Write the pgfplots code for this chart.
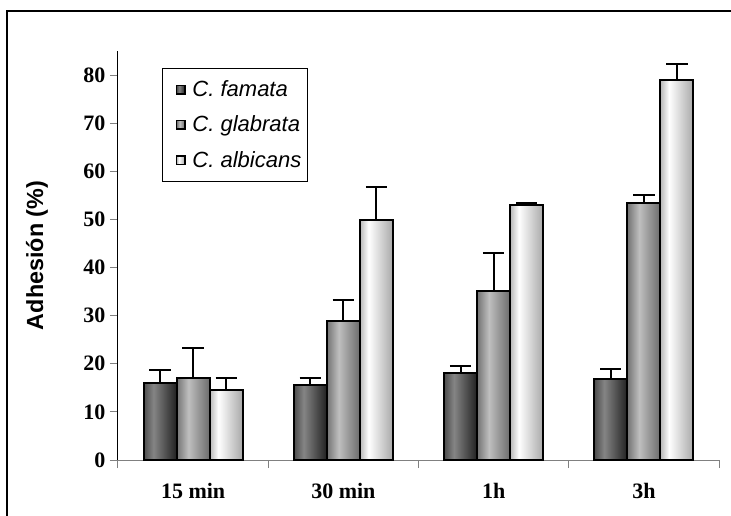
\documentclass[border=0pt]{standalone}
\usepackage{fontspec}
\setmainfont{Liberation Serif}
\newfontfamily\arial{Liberation Sans}
\usepackage{pgfplots}
\usepackage{pgfplotstable}
\pgfplotsset{compat=1.18}

% cylinder-like shadings for the three species
\definecolor{famL}{gray}{0.30}\definecolor{famM}{gray}{0.52}\definecolor{famR}{gray}{0.13}
\definecolor{glaL}{gray}{0.45}\definecolor{glaM}{gray}{0.75}\definecolor{glaR}{gray}{0.42}
\definecolor{albL}{gray}{0.72}\definecolor{albM}{gray}{1.00}\definecolor{albR}{gray}{0.66}
\pgfdeclarehorizontalshading{famshade}{100bp}{color(0bp)=(famL); color(25bp)=(famL); color(40bp)=(famM); color(75bp)=(famR); color(100bp)=(famR)}
\pgfdeclarehorizontalshading{glashade}{100bp}{color(0bp)=(glaL); color(25bp)=(glaL); color(43bp)=(glaM); color(75bp)=(glaR); color(100bp)=(glaR)}
\pgfdeclarehorizontalshading{albshade}{100bp}{color(0bp)=(albL); color(25bp)=(albL); color(38bp)=(albM); color(75bp)=(albR); color(100bp)=(albR)}

% adhesion (%) and standard deviation per time point
\pgfplotstableread{
x fam famerr gla glaerr alb alberr
0 16.0 2.7 17.1 6.1 14.5 2.6
1 15.6 1.5 28.8 4.4 49.8 7.0
2 18.0 1.5 35.1 8.0 53.1 0.3
3 16.8 2.2 53.5 1.6 79.0 3.4
}\adhesion

\begin{document}
\begin{tikzpicture}
\useasboundingbox (0,0) rectangle (548.25pt,386.25pt);
\draw[line width=1.1pt] (5.25pt,-5pt) -- (5.25pt,378pt) -- (560pt,378pt);
\begin{axis}[
  scale only axis, width=450.75pt, height=306.75pt,
  at={(88.5pt,41.25pt)}, anchor=south west,
  xmin=-0.5, xmax=3.5, ymin=0, ymax=85,
  axis x line*=bottom, axis y line*=left,
  x axis line style={gray, line width=0.75pt},
  y axis line style={black, line width=0.75pt},
  xtick={0,1,2,3}, xticklabels={15 min,30 min,1h,3h},
  minor xtick={-0.5,0.5,1.5,2.5,3.5},
  ytick={0,10,...,80},
  tick align=outside,
  major tick length=6pt, minor tick length=6pt,
  xtick style={draw=none},
  minor x tick style={draw=gray, line width=0.75pt},
  ytick style={draw=gray, line width=0.75pt},
  tick label style={font=\fontsize{16.5}{16.5}\selectfont\bfseries},
  /pgf/number format/assume math mode=true,
  xticklabel style={yshift=-8pt},
  ylabel={Adhesión (\%)},
  ylabel style={font=\arial\bfseries\fontsize{17.5}{17.5}\selectfont,
    at={(axis description cs:-0.135,0.5)}, anchor=center},
  bar width=0.22,
  legend style={at={(0.0732,0.958)}, anchor=north west, draw=black,
    line width=0.75pt, font=\arial\itshape\fontsize{16.5}{16.5}\selectfont,
    row sep=9pt, inner xsep=3pt, inner ysep=7pt, cells={anchor=west}},
  legend image code/.code={\path (0pt,0pt);
     \path[#1] (7pt,-3pt) rectangle (13pt,3pt);
     \draw[black, line width=0.75pt] (7pt,-3pt) rectangle (13pt,3pt);
     \path (16pt,0pt);},
  barstyle/.style={ybar, draw=black, line width=1.5pt},
  errstyle/.style={draw=none, mark=none, forget plot,
    error bars/y dir=plus, error bars/y explicit,
    error bars/error bar style={draw=black, line width=1.5pt},
    error bars/error mark options={rotate=90, mark size=8pt, line width=1.5pt, draw=black}},
]
% one plot per bar, so that every bar gets its own shading
\addplot[barstyle, bar shift=-0.22, shading=famshade] coordinates {(0,16.0)};
\addlegendentry{C. famata}
\addplot[barstyle, bar shift=0, shading=glashade] coordinates {(0,17.1)};
\addlegendentry{C. glabrata}
\addplot[barstyle, bar shift=0.22, shading=albshade] coordinates {(0,14.5)};
\addlegendentry{C. albicans}
\addplot[barstyle, bar shift=-0.22, shading=famshade, forget plot] coordinates {(1,15.6)};
\addplot[barstyle, bar shift=-0.22, shading=famshade, forget plot] coordinates {(2,18.0)};
\addplot[barstyle, bar shift=-0.22, shading=famshade, forget plot] coordinates {(3,16.8)};
\addplot[barstyle, bar shift=0, shading=glashade, forget plot] coordinates {(1,28.8)};
\addplot[barstyle, bar shift=0, shading=glashade, forget plot] coordinates {(2,35.1)};
\addplot[barstyle, bar shift=0, shading=glashade, forget plot] coordinates {(3,53.5)};
\addplot[barstyle, bar shift=0.22, shading=albshade, forget plot] coordinates {(1,49.8)};
\addplot[barstyle, bar shift=0.22, shading=albshade, forget plot] coordinates {(2,53.1)};
\addplot[barstyle, bar shift=0.22, shading=albshade, forget plot] coordinates {(3,79.0)};
% standard deviations (upper side only)
\addplot[errstyle] table[x expr=\thisrow{x}-0.22, y=fam, y error=famerr] {\adhesion};
\addplot[errstyle] table[x=x, y=gla, y error=glaerr] {\adhesion};
\addplot[errstyle] table[x expr=\thisrow{x}+0.22, y=alb, y error=alberr] {\adhesion};
\end{axis}
\end{tikzpicture}
\end{document}
